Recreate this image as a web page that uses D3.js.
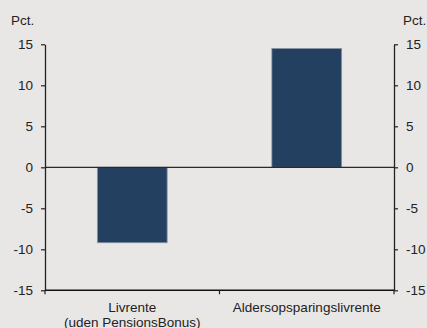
<!DOCTYPE html>
<html><head><meta charset="utf-8">
<script src="https://cdn.jsdelivr.net/npm/d3@7"></script>
<style>
html,body{margin:0;padding:0;background:#e8e7e5;}
svg{display:block;font-family:Arial,"Liberation Sans",sans-serif;}
</style></head>
<body>
<svg id="c" width="427" height="328"></svg>
<script>
const categories = [["Livrente","(uden PensionsBonus)"],["Aldersopsparingslivrente"]];
const values = [-9.2, 14.5];
const yTicks = [-15,-10,-5,0,5,10,15];
const unitLabel = "Pct.";

(function(){
const svg = d3.select("#c");
const W=427,H=328;
svg.append("rect").attr("width",W).attr("height",H).attr("fill","#e8e7e5");
const mLeft=45, mRight=394, mTop=44.3, mBottom=290.3;
const y = d3.scaleLinear().domain([-15,15]).range([mBottom,mTop]);
const x = d3.scaleBand().domain(d3.range(categories.length)).range([mLeft,mRight]).paddingInner(0.6).paddingOuter(0.3);
const xb = d3.scaleBand().domain(d3.range(categories.length)).range([mLeft,mRight]).padding(0);

svg.append("g").selectAll("rect").data(values).join("rect")
  .attr("x",(d,i)=>x(i)).attr("width",x.bandwidth())
  .attr("y",d=>y(Math.max(0,d))).attr("height",d=>Math.abs(y(d)-y(0)))
  .attr("fill","#234060").attr("stroke","#8b97a3").attr("stroke-width",0.8);

svg.append("line").attr("x1",mLeft).attr("x2",mRight).attr("y1",y(0)).attr("y2",y(0))
  .attr("stroke","#2a2a2a").attr("stroke-width",1.3);

const fontSize = 13.5;
const fmt = d => String(d);
const ga = svg.append("g").attr("transform",`translate(${mLeft},0)`)
  .call(d3.axisLeft(y).tickValues(yTicks).tickFormat(fmt).tickSize(4).tickPadding(8).tickSizeOuter(0));
const gb = svg.append("g").attr("transform",`translate(${mRight},0)`)
  .call(d3.axisRight(y).tickValues(yTicks).tickFormat(fmt).tickSize(4).tickPadding(8).tickSizeOuter(0));
[ga,gb].forEach(g=>{
  g.select(".domain").attr("stroke","#222").attr("stroke-width",1.3);
  g.selectAll(".tick line").attr("stroke","#222").attr("stroke-width",1.2);
  g.selectAll(".tick text").attr("fill","#222").attr("font-size",fontSize).attr("font-family","Arial,'Liberation Sans',sans-serif");
});
const boundaries = [mLeft, ...d3.range(1,categories.length).map(i=>xb(i)), mRight];
svg.append("line").attr("x1",mLeft).attr("x2",mRight).attr("y1",mBottom).attr("y2",mBottom)
  .attr("stroke","#111").attr("stroke-width",1.5);
svg.append("g").selectAll("line").data(boundaries).join("line")
  .attr("x1",d=>d).attr("x2",d=>d).attr("y1",mBottom).attr("y2",mBottom+4)
  .attr("stroke","#222").attr("stroke-width",1.2);
const cl = svg.append("g").selectAll("text").data(categories).join("text")
  .attr("x",(d,i)=>xb(i)+xb.bandwidth()/2).attr("y",mBottom+21.7)
  .attr("text-anchor","middle").attr("fill","#222").attr("font-size",fontSize);
cl.selectAll("tspan").data(d=>d).join("tspan")
  .attr("x",function(){return this.parentNode.getAttribute("x");})
  .attr("dy",(d,i)=>i===0?0:14.5).text(d=>d);

svg.append("text").attr("x",11).attr("y",25).attr("fill","#222").attr("font-size",fontSize).text(unitLabel);
svg.append("text").attr("x",403).attr("y",25).attr("fill","#222").attr("font-size",fontSize).text(unitLabel);
})();
</script>
</body></html>
